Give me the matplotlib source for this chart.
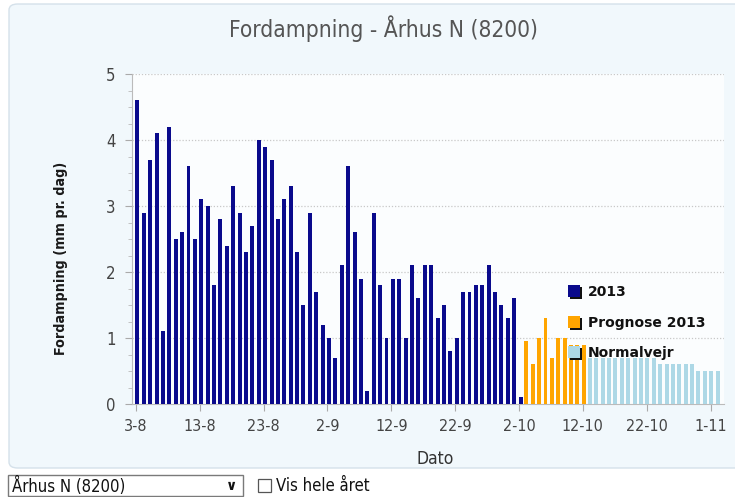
import numpy as np
import matplotlib
matplotlib.use('Agg')
import matplotlib.pyplot as plt
from matplotlib.patches import FancyBboxPatch, Rectangle

# målt fordampning 2013, fra 3-8 og frem (mm pr. dag)
vals_2013 = [4.6, 2.9, 3.7, 4.1, 1.1, 4.2, 2.5, 2.6, 3.6, 2.5,
             3.1, 3.0, 1.8, 2.8, 2.4, 3.3, 2.9, 2.3, 2.7, 4.0,
             3.9, 3.7, 2.8, 3.1, 3.3, 2.3, 1.5, 2.9, 1.7, 1.2,
             1.0, 0.7, 2.1, 3.6, 2.6, 1.9, 0.2, 2.9, 1.8, 1.0,
             1.9, 1.9, 1.0, 2.1, 1.6, 2.1, 2.1, 1.3, 1.5, 0.8,
             1.0, 1.7, 1.7, 1.8, 1.8, 2.1, 1.7, 1.5, 1.3, 1.6, 0.1]
# prognose 4-10 .. 13-10
vals_prognose = [0.95, 0.6, 1.0, 1.3, 0.7, 1.0, 1.0, 0.9, 0.9, 0.9]
# normalvejr 14-10 .. 3-11
vals_normal = [0.7, 0.7, 0.7, 0.7, 0.7, 0.7, 0.7, 0.7, 0.7, 0.7, 0.7,
               0.6, 0.6, 0.6, 0.6, 0.6, 0.6,
               0.5, 0.5, 0.5, 0.5]
start_prognose = 61   # dage efter 3-8
start_normal = 71

tick_labels = ['3-8', '13-8', '23-8', '2-9', '12-9', '22-9',
               '2-10', '12-10', '22-10', '1-11']

W, H = 735, 497
fig = plt.figure(figsize=(W / 100, H / 100), dpi=100)
fig.patch.set_facecolor('white')

def fx(px):
    return px / W

def fy(py):
    return 1 - py / H

# panel bag grafen
panel = FancyBboxPatch((fx(9), fy(468)), fx(760) - fx(9), fy(4) - fy(468),
                       boxstyle='round,pad=0,rounding_size=0.012',
                       transform=fig.transFigure, facecolor='#f1f8fc',
                       edgecolor='#d5e1ea', linewidth=1.0, zorder=-5)
fig.patches.append(panel)

cond = dict(family='DejaVu Sans', stretch='condensed')

ax = fig.add_axes([fx(132), fy(404), fx(724) - fx(132), fy(74) - fy(404)])
ax.set_facecolor('#fbfdfe')

bw = 0.62
x1 = np.arange(len(vals_2013)) + 0.25
x2 = np.arange(len(vals_prognose)) + start_prognose + 0.15
x3 = np.arange(len(vals_normal)) + start_normal + 0.1
ax.bar(x1, vals_2013, width=bw, color='#0a0a8c', zorder=3)
ax.bar(x3, vals_normal, width=bw, color='#add8e6', zorder=3)
ax.bar(x2, vals_prognose, width=bw, color='#ffa500', zorder=4)

ax.set_xlim(-0.6, 92.1)
ax.set_ylim(0, 5)
ax.set_xticks(np.arange(len(tick_labels)) * 10)
ax.set_xticklabels(tick_labels, fontsize=11.5, color='#444444', **cond)
ax.set_yticks(range(6))
ax.set_yticklabels([str(i) for i in range(6)], fontsize=12, color='#444444',
                   **cond)
ax.set_yticks(np.arange(0, 5.01, 0.25), minor=True)
ax.tick_params(axis='both', which='major', length=5, color='#aaaaaa', pad=6)
ax.tick_params(axis='y', which='minor', length=3, color='#bbbbbb')
ax.tick_params(axis='y', pad=7)

for i in range(1, 6):
    ax.axhline(i, color='#c8c8c8', linestyle=(0, (1, 1.5)), linewidth=0.9,
               zorder=1)
for s in ['top', 'right']:
    ax.spines[s].set_visible(False)
for s in ['left', 'bottom']:
    ax.spines[s].set_color('#bbbbbb')
    ax.spines[s].set_linewidth(0.8)

ax.set_xlabel('Dato', fontsize=12.5, color='#333333', **cond)
ax.xaxis.set_label_coords(0.512, -0.14)
ax.set_ylabel('Fordampning (mm pr. dag)', fontsize=10.3, fontweight='bold',
              color='#1a1a1a', **cond)
ax.yaxis.set_label_coords(-0.108, 0.44)

fig.text(fx(383), fy(29), 'Fordampning - Århus N (8200)', fontsize=16.3,
         color='#555555', ha='center', va='center', **cond)

# forklaring
legend_items = [('2013', '#0a0a8c'), ('Prognose 2013', '#ffa500'),
                ('Normalvejr', '#add8e6')]
for k, (lab, col) in enumerate(legend_items):
    cy = 291 + k * 30.5
    fig.patches.append(Rectangle((fx(570), fy(cy + 8)), fx(12), fy(0) - fy(12),
                                 transform=fig.transFigure, facecolor='#111111',
                                 edgecolor='none', zorder=5))
    fig.patches.append(Rectangle((fx(568), fy(cy + 6)), fx(12), fy(0) - fy(12),
                                 transform=fig.transFigure, facecolor=col,
                                 edgecolor='none', zorder=6))
    fig.text(fx(588), fy(cy + 1), lab, family='DejaVu Sans', fontsize=10,
             fontweight='bold', color='#111111', va='center', ha='left',
             zorder=7)

# dropdown og afkrydsningsfelt under grafen
fig.patches.append(Rectangle((fx(8), fy(496)), fx(243) - fx(8), fy(475) - fy(496),
                             transform=fig.transFigure, facecolor='white',
                             edgecolor='#7a7a7a', linewidth=1.0))
fig.text(fx(12), fy(486), 'Århus N (8200)', fontsize=12, color='#111111',
         va='center', ha='left', **cond)
fig.text(fx(232), fy(486), '\u2228', family='DejaVu Sans', fontsize=10,
         fontweight='bold', color='#111111', va='center', ha='center')
fig.patches.append(Rectangle((fx(258), fy(492)), fx(13), fy(0) - fy(13),
                             transform=fig.transFigure, facecolor='white',
                             edgecolor='#555555', linewidth=0.9))
fig.text(fx(276), fy(486), 'Vis hele året', fontsize=12, color='#111111',
         va='center', ha='left', **cond)

fig.savefig('out.png', dpi=100)
